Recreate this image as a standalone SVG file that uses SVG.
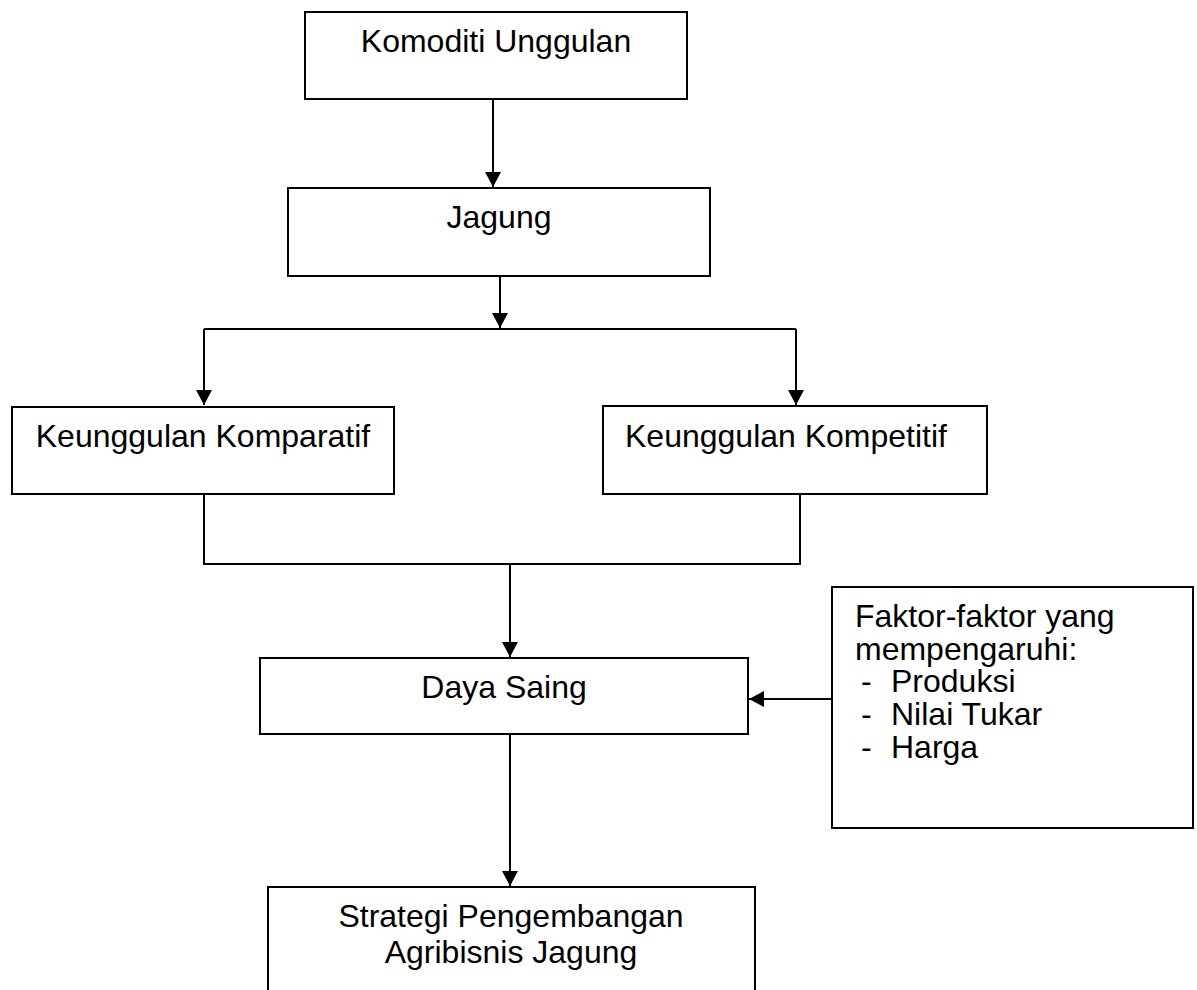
<svg xmlns="http://www.w3.org/2000/svg" width="1197" height="990" viewBox="0 0 1197 990">
<style>
.box{fill:#fff;stroke:#000;stroke-width:2}
.ln{fill:none;stroke:#000;stroke-width:2}
.t{font-family:"Liberation Sans",Arial,sans-serif;font-size:32px;fill:#000}
.c{text-anchor:middle}
</style>
<defs>
<marker id="ah" markerUnits="userSpaceOnUse" markerWidth="16" markerHeight="16" viewBox="0 0 16 16" refX="15" refY="8" orient="auto">
<path d="M0,0 L15,8 L0,16 Z" fill="#000"/>
</marker>
</defs>
<rect width="1197" height="990" fill="#fff"/>
<g id="connectors">
<path class="ln" d="M493,99 V187" marker-end="url(#ah)"/>
<path class="ln" d="M500,276 V328" marker-end="url(#ah)"/>
<path class="ln" d="M204,329 H796"/>
<path class="ln" d="M204,329 V405" marker-end="url(#ah)"/>
<path class="ln" d="M796,329 V405" marker-end="url(#ah)"/>
<path class="ln" d="M204,494 V564 H800 V494"/>
<path class="ln" d="M510,564 V657" marker-end="url(#ah)"/>
<path class="ln" d="M832,699 H749" marker-end="url(#ah)"/>
<path class="ln" d="M510,734 V886" marker-end="url(#ah)"/>
</g>
<g id="n1">
<rect class="box" x="305" y="12" width="382" height="87"/>
<text class="t c" x="496" y="52">Komoditi Unggulan</text>
</g>
<g id="n2">
<rect class="box" x="288" y="188" width="422" height="88"/>
<text class="t c" x="499" y="228">Jagung</text>
</g>
<g id="n3">
<rect class="box" x="12" y="407" width="382" height="87"/>
<text class="t c" x="203" y="447">Keunggulan Komparatif</text>
</g>
<g id="n4">
<rect class="box" x="603" y="406" width="384" height="88"/>
<text class="t" x="625" y="447">Keunggulan Kompetitif</text>
</g>
<g id="n5">
<rect class="box" x="260" y="658" width="488" height="76"/>
<text class="t c" x="504" y="698">Daya Saing</text>
</g>
<g id="n6">
<rect class="box" x="832" y="587" width="361" height="241"/>
<text class="t" x="855" y="627">Faktor-faktor yang</text>
<text class="t" x="855" y="660">mempengaruhi:</text>
<text class="t" x="861" y="692">-</text>
<text class="t" x="891" y="692">Produksi</text>
<text class="t" x="861" y="725">-</text>
<text class="t" x="891" y="725">Nilai Tukar</text>
<text class="t" x="861" y="758">-</text>
<text class="t" x="891" y="758">Harga</text>
</g>
<g id="n7">
<rect class="box" x="268" y="887" width="487" height="120"/>
<text class="t c" x="511" y="927">Strategi Pengembangan</text>
<text class="t c" x="511" y="963">Agribisnis Jagung</text>
</g>
</svg>
